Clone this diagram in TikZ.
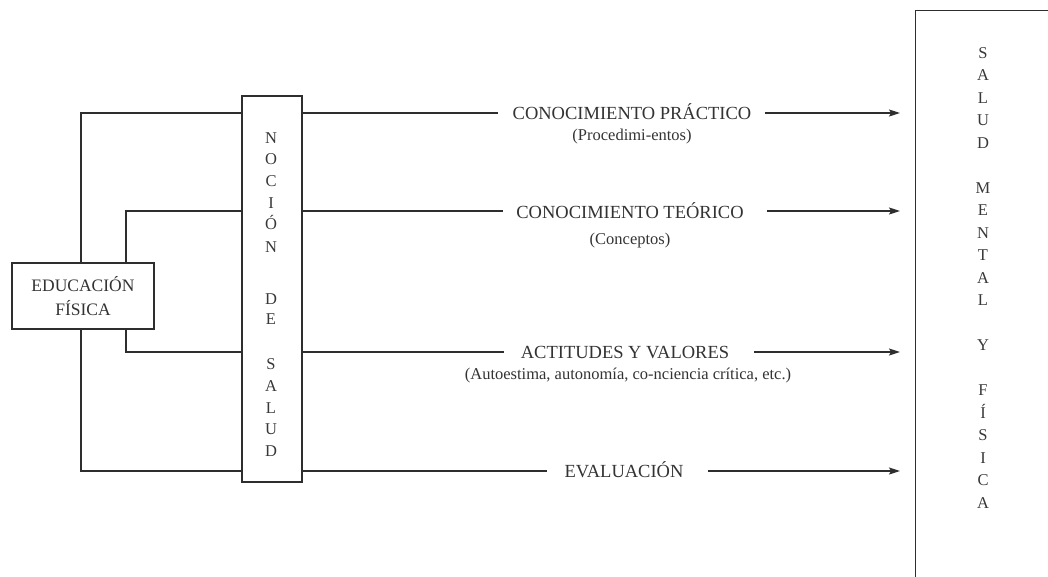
\documentclass[tikz,border=0pt]{standalone}
\usepackage{fontspec}
\setmainfont{Liberation Serif}
\usetikzlibrary{arrows.meta}
\begin{document}
\begin{tikzpicture}[x=1pt,y=-1pt,
  ln/.style={draw=black!82,line width=1.3pt},
  box/.style={draw=black!82,line width=1.3pt,inner sep=0pt},
  ttl/.style={text=black!80,font=\fontsize{18.5}{22}\selectfont,anchor=base,inner sep=0pt},
  sub/.style={text=black!80,font=\fontsize{16.5}{20}\selectfont,anchor=base,inner sep=0pt},
  lett/.style={text=black!78,font=\fontsize{16.5}{18}\selectfont,anchor=base,inner sep=0pt},
  arr/.style={ln,-{Stealth[length=11pt,width=7pt,inset=2pt]}}
]
\useasboundingbox (0,0) rectangle (1048,576);
% boxes
\node[box,minimum width=142pt,minimum height=66pt,align=center,text=black!80,
      font=\fontsize{17.5}{24}\selectfont] (edu) at (83,296) {EDUCACIÓN\\FÍSICA};
\node[box,minimum width=60pt,minimum height=386pt] (noc) at (272,289) {};
\node[box,minimum width=160pt,minimum height=590pt,anchor=north west] (sal) at (915,10) {};
% letters of NOCION DE SALUD
\foreach \c/\y [count=\i] in {N/137,O/158,C/180,I/202,Ó/223,N/246,D/298,E/318,S/363,A/385,L/407,U/428,D/450}
  \node[lett] (n\i) at (271,\y+6) {\c};
% letters of SALUD MENTAL Y FISICA
\foreach \c/\k [count=\i] in {S/0,A/1,L/2,U/3,D/4,M/6,E/7,N/8,T/9,A/10,L/11,Y/13,F/15,Í/16,S/17,I/18,C/19,A/20}
  \node[lett] (s\i) at (983,52+22.5*\k+6) {\c};
% row coordinates
\coordinate (r1) at (0,113);
\coordinate (r2) at (0,211);
\coordinate (r3) at (0,352);
\coordinate (r4) at (0,471);
\coordinate (xo) at (81,0);
\coordinate (xi) at (126,0);
% labels
\node[ttl] (t1) at (632,119) {CONOCIMIENTO PRÁCTICO};
\node[sub] (u1) at (632,140) {(Procedimi-entos)};
\node[ttl] (t2) at (630,218) {CONOCIMIENTO TEÓRICO};
\node[sub] (u2) at (630,244) {(Conceptos)};
\node[ttl] (t3) at (625,358) {ACTITUDES Y VALORES};
\node[sub] (u3) at (628,379) {(Autoestima, autonomía, co-nciencia crítica, etc.)};
\node[ttl] (t4) at (624,477) {EVALUACIÓN};
% left connectors
\draw[ln] (xo |- edu.north) |- (noc.west |- r1);
\draw[ln] (xi |- edu.north) |- (noc.west |- r2);
\draw[ln] (xi |- edu.south) |- (noc.west |- r3);
\draw[ln] (xo |- edu.south) |- (noc.west |- r4);
% right connectors
\draw[ln] (noc.east |- r1) -- ([xshift=-14pt]t1.west |- r1);
\draw[arr] ([xshift=13pt]t1.east |- r1) -- ([xshift=-15pt]sal.west |- r1);
\draw[ln] (noc.east |- r2) -- ([xshift=-13pt]t2.west |- r2);
\draw[arr] ([xshift=23pt]t2.east |- r2) -- ([xshift=-15pt]sal.west |- r2);
\draw[ln] (noc.east |- r3) -- ([xshift=-17pt]t3.west |- r3);
\draw[arr] ([xshift=25pt]t3.east |- r3) -- ([xshift=-15pt]sal.west |- r3);
\draw[ln] (noc.east |- r4) -- ([xshift=-17pt]t4.west |- r4);
\draw[arr] ([xshift=24pt]t4.east |- r4) -- ([xshift=-15pt]sal.west |- r4);
\end{tikzpicture}
\end{document}
